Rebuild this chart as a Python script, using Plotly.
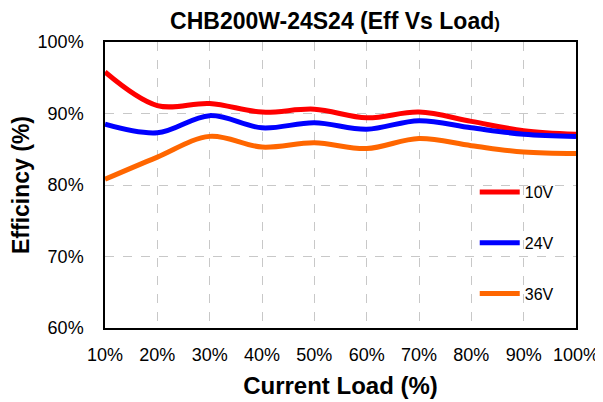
import plotly.graph_objects as go

load_pct = [10, 20, 30, 40, 50, 60, 70, 80, 90, 100]
tick_labels = ["10%", "20%", "30%", "40%", "50%", "60%", "70%", "80%", "90%", "100%"]
eff_10v = [95.8, 91.1, 91.4, 90.2, 90.6, 89.4, 90.2, 88.9, 87.6, 87.1]
eff_24v = [88.5, 87.3, 89.7, 88.0, 88.7, 87.8, 89.0, 88.0, 87.1, 86.8]
eff_36v = [80.8, 83.9, 86.8, 85.3, 85.9, 85.1, 86.5, 85.5, 84.6, 84.4]
y_ticks = [60, 70, 80, 90, 100]
y_labels = ["60%", "70%", "80%", "90%", "100%"]

FONT = "Liberation Sans, Arial, sans-serif"

# page has an 8px body margin, so the figure is sized to fit the 603x402 window
W, H = 595, 394

fig = go.Figure()
series = [("10V", eff_10v, "#ff0000"), ("24V", eff_24v, "#0000ff"), ("36V", eff_36v, "#ff6600")]
for i, (name, vals, col) in enumerate(series):
    fig.add_trace(go.Scatter(
        x=load_pct, y=vals, name=name, mode="lines",
        line=dict(color=col, width=5, shape="spline", smoothing=1.0),
        legendgroup=name,
    ))

fig.update_layout(
    width=W, height=H,
    margin=dict(l=97, r=27, t=34, b=74),
    paper_bgcolor="white", plot_bgcolor="white",
    font=dict(family=FONT, color="black"),
    title=dict(text="<b>CHB200W-24S24 (Eff Vs Load<span style='font-size:17px'>)</span></b>",
               x=327 / W, xanchor="center", y=1 - 13 / H, yanchor="middle",
               font=dict(size=23, family=FONT, color="black")),
    showlegend=True,
    legend=dict(x=0.785, y=0.535, xanchor="left", yanchor="top",
                bgcolor="rgba(0,0,0,0)", font=dict(size=16, family=FONT),
                tracegroupgap=27, itemwidth=40),
)
fig.update_xaxes(
    range=[10, 100], tickvals=load_pct, ticktext=tick_labels,
    showgrid=True, gridcolor="#c8c8c8", griddash="dash", gridwidth=1,
    showline=True, linecolor="black", linewidth=1.5, mirror=True,
    ticks="", ticklabelstandoff=10, tickfont=dict(size=18, family=FONT, color="black"),
    title=dict(text="<b>Current Load (%)</b>", font=dict(size=24, family=FONT, color="black"), standoff=13),
    zeroline=False, automargin=False,
)
fig.update_yaxes(
    range=[60, 100], tickvals=y_ticks, ticktext=y_labels,
    showgrid=True, gridcolor="#c8c8c8", griddash="dash", gridwidth=1,
    showline=True, linecolor="black", linewidth=1.5, mirror=True,
    ticks="", ticklabelstandoff=16, tickfont=dict(size=18, family=FONT, color="black"),
    title=dict(text="<b>Efficincy (%)</b>", font=dict(size=23, family=FONT, color="black"), standoff=4),
    zeroline=False, automargin=False,
)

fig.write_html("out.html")
